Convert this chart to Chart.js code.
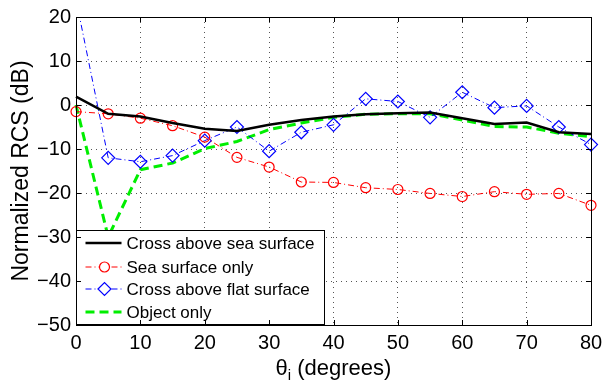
<!DOCTYPE html>
<html>
<head>
<meta charset="utf-8">
<style>
html,body{margin:0;padding:0;background:#fff;}
canvas{display:block;}
</style>
<script src="https://cdn.jsdelivr.net/npm/chart.js@4/dist/chart.umd.min.js"></script>
</head>
<body>
<canvas id="c" width="614" height="383"></canvas>
<script>
const angles = [0,5,10,15,20,25,30,35,40,45,50,55,60,65,70,75,80];
const crossAboveSea = [1.9,-2.0,-2.6,-4.1,-5.4,-5.9,-4.5,-3.4,-2.6,-2.1,-1.9,-1.7,-3.0,-4.3,-4.0,-6.2,-6.6];
const seaOnly = [-1.5,-2.0,-3.0,-4.7,-7.3,-11.9,-14.1,-17.5,-17.6,-18.8,-19.2,-20.1,-20.8,-19.7,-20.3,-20.1,-22.8];
const crossAboveFlat = [24,-12.0,-12.9,-11.5,-8.1,-5.0,-10.5,-6.2,-4.5,1.4,0.8,-2.8,2.9,-0.6,-0.2,-5.0,-9.0];
const objectOnly = [0,-30,-14.7,-13.2,-9.9,-8.3,-5.6,-4.1,-2.8,-2.1,-2.0,-2.0,-3.4,-4.9,-5.0,-6.4,-7.2];
const seriesNames = ['Cross above sea surface','Sea surface only','Cross above flat surface','Object only'];
const xTicks = [0,10,20,30,40,50,60,70,80];
const yTicks = [20,10,0,-10,-20,-30,-40,-50];

const FONT = '"Liberation Sans", Arial, Helvetica, sans-serif';
const GREEN = '#00ee00';

function pts(arr){ return angles.map((a,i)=>({x:a,y:arr[i]})); }

const clipOpt = {left:12,right:12,top:0,bottom:12};

const datasets = [
  {label:seriesNames[0], data:pts(crossAboveSea), borderColor:'#000', borderWidth:2.5, pointRadius:0, fill:false, clip:clipOpt},
  {label:seriesNames[1], data:pts(seaOnly), borderColor:'#ff0000', borderWidth:1, borderDash:[6,3,1,3], pointStyle:'circle', pointRadius:5, pointBorderWidth:1.2, pointBackgroundColor:'rgba(0,0,0,0)', pointBorderColor:'#ff0000', fill:false, clip:clipOpt},
  {label:seriesNames[2], data:pts(crossAboveFlat), borderColor:'#0000ff', borderWidth:1, borderDash:[6,3,1,3], pointStyle:'rectRot', pointRadius:6.5, pointBorderWidth:1.2, pointBackgroundColor:'rgba(0,0,0,0)', pointBorderColor:'#0000ff', fill:false, clip:clipOpt},
  {label:seriesNames[3], data:pts(objectOnly), borderColor:GREEN, borderWidth:3, borderDash:[9,5], pointRadius:0, fill:false, clip:clipOpt}
];

const frame = {
  id:'frame',
  afterDraw(chart){
    const {ctx, chartArea:a} = chart;
    const xs = chart.scales.x, ys = chart.scales.y;
    ctx.save();
    ctx.strokeStyle='#000'; ctx.lineWidth=1;
    ctx.strokeRect(Math.round(a.left)+0.5, Math.round(a.top)+0.5, Math.round(a.right-a.left), Math.round(a.bottom-a.top));
    const tl=5;
    ctx.beginPath();
    xTicks.forEach(t=>{
      const px=Math.round(xs.getPixelForValue(t))+0.5;
      ctx.moveTo(px,a.bottom); ctx.lineTo(px,a.bottom-tl);
      ctx.moveTo(px,a.top); ctx.lineTo(px,a.top+tl);
    });
    yTicks.forEach(t=>{
      const py=Math.round(ys.getPixelForValue(t))+0.5;
      ctx.moveTo(a.left,py); ctx.lineTo(a.left+tl,py);
      ctx.moveTo(a.right,py); ctx.lineTo(a.right-tl,py);
    });
    ctx.stroke();
    // x axis title with subscript
    ctx.fillStyle='#000';
    ctx.textBaseline='alphabetic';
    const big='22px '+FONT, small='15px '+FONT;
    ctx.font=big; const w1=ctx.measureText('θ').width;
    ctx.font=small; const w2=ctx.measureText('i').width;
    ctx.font=big; const w3=ctx.measureText(' (degrees)').width;
    const total=w1+w2+w3;
    let x=(a.left+a.right)/2-total/2;
    const base=375;
    ctx.textAlign='left';
    ctx.font=big; ctx.fillText('θ',x,base); x+=w1;
    ctx.font=small; ctx.fillText('i',x,base+5); x+=w2;
    ctx.font=big; ctx.fillText(' (degrees)',x,base);
    ctx.restore();
  }
};

const legendBox = {
  id:'legendBox',
  afterDatasetsDraw(chart){
    const {ctx} = chart;
    const L=76.5, T=230.5, W=248, H=94;
    ctx.save();
    ctx.fillStyle='#fff';
    ctx.fillRect(L,T,W,H);
    ctx.strokeStyle='#000'; ctx.lineWidth=1;
    ctx.strokeRect(L,T,W,H);
    const rows=[243,267,289,312];
    const x0=L+9, x1=L+45, xm=(x0+x1)/2+1;
    chart.data.datasets.forEach((ds,i)=>{
      const y=rows[i];
      ctx.save();
      ctx.strokeStyle=ds.borderColor; ctx.lineWidth=ds.borderWidth;
      ctx.setLineDash(ds.borderDash||[]);
      ctx.beginPath(); ctx.moveTo(x0,y); ctx.lineTo(x1,y); ctx.stroke();
      ctx.restore();
      if(ds.pointRadius>0){
        ctx.save();
        ctx.strokeStyle=ds.pointBorderColor; ctx.lineWidth=ds.pointBorderWidth;
        ctx.fillStyle='#fff';
        ctx.beginPath();
        const r=ds.pointRadius;
        if(ds.pointStyle==='circle'){ ctx.arc(xm,y,r,0,Math.PI*2); }
        else { ctx.moveTo(xm-r,y); ctx.lineTo(xm,y-r); ctx.lineTo(xm+r,y); ctx.lineTo(xm,y+r); ctx.closePath(); }
        ctx.fill(); ctx.stroke();
        ctx.restore();
      }
      ctx.fillStyle='#000';
      ctx.font='17px '+FONT;
      ctx.textBaseline='middle'; ctx.textAlign='left';
      ctx.fillText(ds.label, L+50, y+1);
    });
    ctx.restore();
  }
};

new Chart(document.getElementById('c'), {
  type:'line',
  data:{datasets},
  options:{
    responsive:false,
    animation:false,
    layout:{padding:{top:15,right:23,left:0,bottom:0}},
    plugins:{legend:{display:false}, tooltip:{enabled:false}},
    scales:{
      x:{
        type:'linear', min:0, max:80,
        afterBuildTicks(s){ s.ticks = xTicks.map(v=>({value:v})); },
        afterFit(s){ s.height = 58; },
        ticks:{font:{family:FONT,size:20}, color:'#000', padding:6},
        grid:{color:'#555', lineWidth:1, drawTicks:false},
        border:{display:false, dash:[1,4]}
      },
      y:{
        min:-50, max:20,
        afterBuildTicks(s){ s.ticks = yTicks.map(v=>({value:v})); },
        afterFit(s){ s.width = 76; },
        ticks:{font:{family:FONT,size:20}, color:'#000', padding:5, callback:v=> v<0 ? '\u2212'+Math.abs(v) : String(v)},
        grid:{color:'#555', lineWidth:1, drawTicks:false},
        border:{display:false, dash:[1,4]},
        title:{display:true, text:'Normalized RCS (dB)', font:{family:FONT,size:23}, color:'#000', padding:{top:8,bottom:0}}
      }
    }
  },
  plugins:[frame, legendBox]
});
</script>
</body>
</html>
